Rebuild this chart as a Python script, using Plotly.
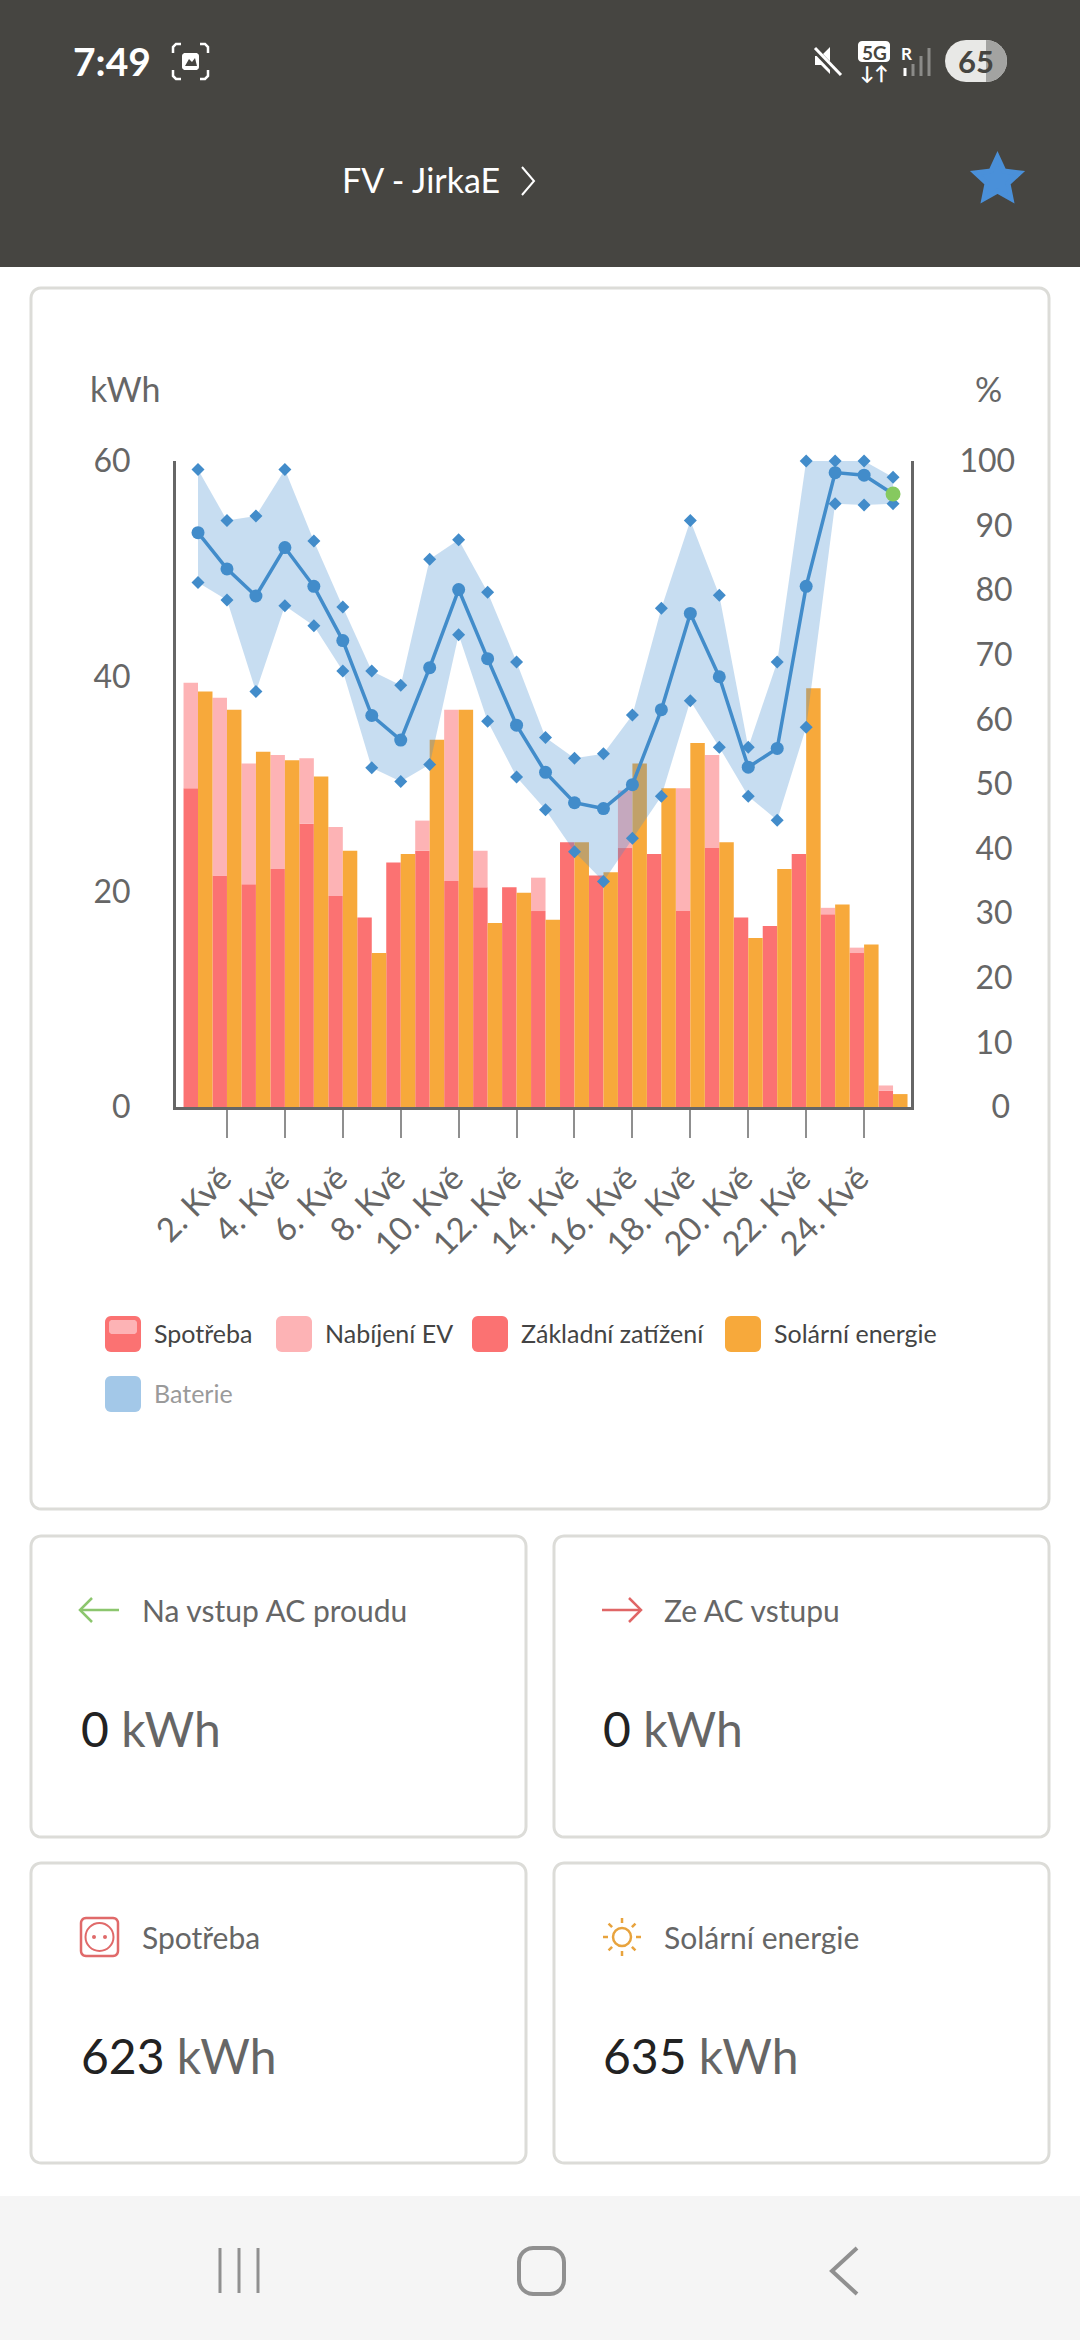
import math
import plotly.graph_objs as go

W = 1080
H = 2340
FONT = "Lato"

days = list(range(1, 26))
tick_days = list(range(2, 25, 2))
tick_labels = [f"{d}. Kvě" for d in tick_days]

base_load = [29.6, 21.5, 20.7, 22.1, 26.3, 19.6, 17.6, 22.7, 23.8, 21.0, 20.4, 20.4, 18.2,
             24.6, 21.5, 24.05, 23.5, 18.2, 24.05, 17.6, 16.8, 23.5, 17.9, 14.3, 1.5]
ev_charging = [9.8, 16.5, 11.2, 10.6, 6.1, 6.4, 0, 0, 2.8, 15.9, 3.4, 0, 3.1,
               0, 0, 5.35, 0, 11.4, 8.65, 0, 0, 0, 0.6, 0.5, 0.5]
solar = [38.6, 36.9, 33.0, 32.2, 30.7, 23.8, 14.3, 23.5, 34.1, 36.9, 17.1, 19.9, 17.4,
         24.6, 21.8, 31.9, 29.6, 33.8, 24.6, 15.7, 22.1, 38.9, 18.8, 15.1, 1.2]
soc_avg = [88.9, 83.3, 79.1, 86.6, 80.6, 72.2, 60.6, 56.8, 68.0, 80.1, 69.4, 59.1, 51.8,
           47.1, 46.2, 49.9, 61.5, 76.4, 66.6, 52.6, 55.5, 80.6, 98.2, 97.8, 94.9]
soc_max = [98.7, 90.8, 91.5, 98.7, 87.6, 77.4, 67.5, 65.3, 84.8, 87.8, 79.7, 68.9, 57.2,
           54.0, 54.7, 60.7, 77.2, 90.8, 79.2, 55.7, 68.9, 100, 100, 100, 97.5]
soc_min = [81.2, 78.5, 64.3, 77.6, 74.5, 67.5, 52.5, 50.4, 53.0, 73.1, 59.7, 51.1, 46.0,
           39.5, 34.9, 41.6, 48.1, 62.9, 55.7, 48.1, 44.4, 58.8, 93.4, 93.2, 93.4]

kwh_ticks = [0, 20, 40, 60]
pct_ticks = list(range(0, 101, 10))

RED = "#fb7272"
PINK = "#fdb3b5"
ORANGE = "#f7a93b"
BLUE = "#428cca"
GREEN = "#86c95f"
AXIS = "#666666"
BORDER = "#dcdcd8"
NAV = "#909090"


def px(x):
    return x / W


def py(y):
    return 1 - y / H


shapes = []
annotations = []


def text(x, y, s, size, color, anchor="left", weight=None):
    family = FONT
    if weight:
        s = f"<b>{s}</b>"
    annotations.append(dict(x=px(x), y=py(y), xref="paper", yref="paper", text=s, showarrow=False,
                            xanchor=anchor, yanchor="middle", align=anchor, borderpad=0,
                            font=dict(family=family, size=size, color=color)))


def path(points, color=None, fill=None, width=3, close=False):
    d = "M " + " L ".join(f"{px(x):.5f},{py(y):.5f}" for x, y in points)
    if close:
        d += " Z"
    shapes.append(dict(type="path", path=d, xref="paper", yref="paper", layer="below",
                       line=dict(color=color or "rgba(0,0,0,0)", width=width if color else 0),
                       fillcolor=fill or "rgba(0,0,0,0)"))


def rounded(x0, y0, x1, y1, r, color=None, fill=None, width=3):
    # rounded box from short straight pieces, shapes have no corner radius
    pts = []
    corners = [(x1 - r, y0 + r, -90), (x1 - r, y1 - r, 0), (x0 + r, y1 - r, 90), (x0 + r, y0 + r, 180)]
    for cx, cy, start in corners:
        for i in range(7):
            a = math.radians(start + i * 15)
            pts.append((cx + r * math.cos(a), cy + r * math.sin(a)))
    path(pts, color=color, fill=fill, width=width, close=True)


def circle(cx, cy, r, color=None, fill=None, width=2):
    shapes.append(dict(type="circle", xref="paper", yref="paper", layer="below",
                       x0=px(cx - r), x1=px(cx + r), y0=py(cy + r), y1=py(cy - r),
                       line=dict(color=color or "rgba(0,0,0,0)", width=width if color else 0),
                       fillcolor=fill or "rgba(0,0,0,0)"))


# header
rounded(-5, -5, W + 5, 267, 1, fill="#464541")
text(72, 61, "7:49", 39, "#ffffff", weight=True)
for sx, sy, hx, vy in [(173, 44, 1, 1), (208, 44, -1, 1), (173, 79, 1, -1), (208, 79, -1, -1)]:
    path([(sx, sy + vy * 9), (sx, sy + vy * 3), (sx + hx * 3, sy), (sx + hx * 8, sy)], color="#ffffff", width=2.5)
rounded(182, 53, 199, 70, 3, fill="#ffffff")
path([(185, 66), (189, 59), (192, 62), (195, 58), (197, 66)], fill="#464541", close=True)
path([(815, 56), (821, 56), (830, 47), (830, 74), (821, 65), (815, 65)], fill="#ffffff", close=True)
path([(813, 48), (841, 77)], color="#464541", width=6)
path([(815, 48), (841, 75)], color="#ffffff", width=3)
rounded(858, 41, 890, 62, 4, fill="#ffffff")
text(874, 52, "5G", 19, "#464541", anchor="center", weight=True)
text(874, 72, "↓↑", 19, "#ffffff", anchor="center", weight=True)
text(906, 53, "R", 17, "#ffffff", anchor="center", weight=True)
path([(905, 68), (905, 76)], color="#ffffff", width=3)
path([(913, 64), (913, 76)], color="#8b8b88", width=3)
path([(921, 56), (921, 76)], color="#8b8b88", width=3)
path([(929, 48), (929, 76)], color="#8b8b88", width=3)
rounded(945, 40, 1007, 82, 21, fill="#e8e8e6")
pill_end = [(986 + 21 * math.cos(math.radians(a)), 61 + 21 * math.sin(math.radians(a))) for a in range(-90, 91, 15)]
path(pill_end, fill="#a3a3a1", close=True)
text(976, 61, "65", 31, "#464541", anchor="center", weight=True)

text(341, 180, "FV - JirkaE", 34, "#ffffff")
path([(522, 167), (534, 181), (522, 195)], color="#ffffff", width=2)
star = []
for i in range(10):
    r = 23 if i % 2 == 0 else 11
    a = math.radians(-90 + i * 36)
    star.append((997.5 + r * math.cos(a), 180 + r * math.sin(a)))
path(star, color="#4a90d9", fill="#4a90d9", width=5, close=True)

# cards
rounded(31, 288, 1049, 1509, 10, color=BORDER)
rounded(31, 1536, 526, 1837, 10, color=BORDER)
rounded(554, 1536, 1049, 1837, 10, color=BORDER)
rounded(31, 1863, 526, 2163, 10, color=BORDER)
rounded(554, 1863, 1049, 2163, 10, color=BORDER)

# chart unit labels
text(125, 389, "kWh", 34, AXIS, anchor="center")
text(988, 389, "%", 34, AXIS, anchor="center")

# legend
legend_row = [(105, 153, "Spotřeba"), (276, 324, "Nabíjení EV"), (472, 520, "Základní zatížení"), (725, 773, "Solární energie")]
legend_fill = [RED, PINK, RED, ORANGE]
for (sx, tx, label), c in zip(legend_row, legend_fill):
    rounded(sx, 1316, sx + 36, 1352, 6, fill=c)
    text(tx, 1333, label, 25, "#444444")
rounded(109, 1320, 137, 1334, 3, fill=PINK)
rounded(105, 1376, 141, 1412, 6, fill="#a3c8e8")
text(153, 1393, "Baterie", 25, "#9a9a9a")

# card contents
text(141, 1610, "Na vstup AC proudu", 30, AXIS)
text(663, 1610, "Ze AC vstupu", 30, AXIS)
text(141, 1937, "Spotřeba", 30, AXIS)
text(663, 1937, "Solární energie", 30, AXIS)
for x, y, val in [(80, 1728, "0"), (602, 1728, "0"), (80, 2055, "623"), (602, 2055, "635")]:
    text(x, y, f'<span style="color:#222222">{val}</span> kWh', 48, AXIS)

path([(92, 1598), (80, 1610), (92, 1622)], color="#8cc66e", width=2.5)
path([(80, 1610), (119, 1610)], color="#8cc66e", width=2.5)
path([(629, 1598), (641, 1610), (629, 1622)], color="#e06666", width=2.5)
path([(602, 1610), (641, 1610)], color="#e06666", width=2.5)

rounded(81, 1918, 118, 1956, 5, color="#e06a6a", width=2.5)
circle(99.5, 1937, 14, color="#e06a6a", width=2)
circle(94, 1937, 2, fill="#e06a6a")
circle(105, 1937, 2, fill="#e06a6a")

circle(622, 1937, 9, color="#e8a33d", width=2.5)
for i in range(8):
    a = math.radians(i * 45)
    path([(622 + 14 * math.cos(a), 1937 + 14 * math.sin(a)), (622 + 19 * math.cos(a), 1937 + 19 * math.sin(a))],
         color="#e8a33d", width=2.5)

# nav bar
rounded(-5, 2196, W + 5, H + 5, 1, fill="#f5f5f5")
for x in [220, 239, 258]:
    path([(x, 2248), (x, 2293)], color=NAV, width=3)
rounded(519, 2248, 564, 2294, 14, color=NAV, width=4)
path([(857, 2248), (832, 2271), (857, 2294)], color=NAV, width=4)

fig = go.Figure()
fig.add_trace(go.Bar(x=days, y=base_load, name="Základní zatížení", width=0.5, offset=-0.5, opacity=1,
                     marker=dict(color=RED, line=dict(width=0))))
fig.add_trace(go.Bar(x=days, y=ev_charging, base=base_load, name="Nabíjení EV", width=0.5, offset=-0.5, opacity=1,
                     marker=dict(color=PINK, line=dict(width=0))))
fig.add_trace(go.Bar(x=days, y=solar, name="Solární energie", width=0.5, offset=0, opacity=1,
                     marker=dict(color=ORANGE, line=dict(width=0))))

diamonds = dict(symbol="diamond", size=10, color=BLUE, opacity=1, line=dict(width=0))
fig.add_trace(go.Scatter(x=days, y=soc_max, yaxis="y2", mode="lines+markers", name="Baterie max",
                         line=dict(width=0, color=BLUE), marker=diamonds, cliponaxis=False))
fig.add_trace(go.Scatter(x=days, y=soc_min, yaxis="y2", mode="lines+markers", name="Baterie min",
                         line=dict(width=0, color=BLUE), marker=diamonds, cliponaxis=False,
                         fill="tonexty", fillcolor="rgba(74,144,210,0.31)"))
fig.add_trace(go.Scatter(x=days, y=soc_avg, yaxis="y2", mode="lines+markers", name="Baterie",
                         line=dict(width=3.5, color=BLUE), cliponaxis=False,
                         marker=dict(size=[13] * 24 + [15], color=[BLUE] * 24 + [GREEN], opacity=1, line=dict(width=0))))

# thin spaces pad the right axis labels so they sit centred
pct_labels = ["\u2005" * (2 * (3 - len(str(v)))) + str(v) for v in pct_ticks]

fig.update_layout(
    template="none",
    width=W, height=H,
    autosize=False,
    margin=dict(l=0, r=0, t=0, b=0),
    paper_bgcolor="#ffffff",
    plot_bgcolor="rgba(0,0,0,0)",
    barmode="overlay",
    showlegend=False,
    shapes=shapes,
    annotations=annotations,
    font=dict(family=FONT, color=AXIS),
    xaxis=dict(domain=[px(176), px(911)], range=[0.24, 25.62], tickmode="array", tickvals=tick_days,
               ticktext=tick_labels, tickangle=-45, ticks="outside", ticklen=28, tickwidth=2,
               tickcolor="#8f8f8f", ticklabelstandoff=8, ticklabelshift=-5, tickfont=dict(size=33, color=AXIS),
               automargin=False, showline=True, linecolor=AXIS, linewidth=3, showgrid=False, zeroline=False),
    yaxis=dict(domain=[py(1107), py(461)], range=[0, 60], tickmode="array", tickvals=kwh_ticks,
               ticks="", ticklabelstandoff=36, tickfont=dict(size=32, color=AXIS), automargin=False,
               showline=True, linecolor=AXIS, linewidth=3, showgrid=False, zeroline=False),
    yaxis2=dict(domain=[py(1107), py(461)], range=[0, 100], overlaying="y", side="right", tickmode="array",
                tickvals=pct_ticks, ticktext=pct_labels, ticks="", ticklabelstandoff=39, automargin=False,
                tickfont=dict(size=32, color=AXIS), showline=True, linecolor=AXIS, linewidth=3,
                showgrid=False, zeroline=False),
)

fig.write_html("out.html", config=dict(displayModeBar=False),
               post_script="document.body.style.margin='0';document.body.style.background='#ffffff';")
